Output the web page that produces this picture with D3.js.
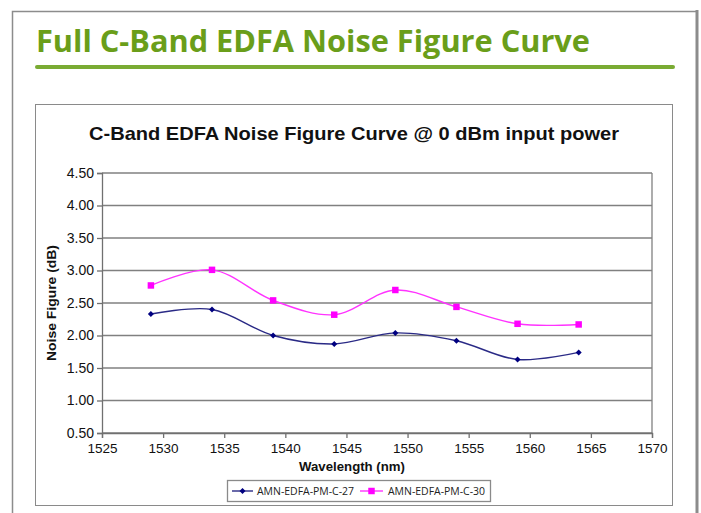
<!DOCTYPE html>
<html><head><meta charset="utf-8">
<script src="https://cdn.jsdelivr.net/npm/d3@7"></script>
<style>body{margin:0;background:#fff;}svg{display:block;}</style>
</head><body>
<script>
const wavelengths = [1529, 1534, 1539, 1544, 1549, 1554, 1559, 1564];
const series27 = [2.33, 2.40, 2.00, 1.87, 2.04, 1.92, 1.63, 1.74];
const series30 = [2.77, 3.01, 2.54, 2.32, 2.70, 2.44, 2.18, 2.17];
const seriesNames = ["AMN-EDFA-PM-C-27", "AMN-EDFA-PM-C-30"];
const xTicks = [1525, 1530, 1535, 1540, 1545, 1550, 1555, 1560, 1565, 1570];
const yTicks = [0.5, 1.0, 1.5, 2.0, 2.5, 3.0, 3.5, 4.0, 4.5];

const W = 701, H = 513;
const svg = d3.select("body").append("svg").attr("width", W).attr("height", H);
svg.append("rect").attr("width", W).attr("height", H).attr("fill", "#fff");

// outer page frame
svg.append("path").attr("d", "M12.5,520 V11.5 H696").attr("fill", "none").attr("stroke", "#8c8c8c").attr("stroke-width", 1.5);
svg.append("line").attr("x1", 697).attr("x2", 697).attr("y1", 10).attr("y2", 520).attr("stroke", "#8c8c8c").attr("stroke-width", 3);

// page title
svg.append("text").attr("x", 36).attr("y", 52)
  .attr("font-family", "'Open Sans', sans-serif").attr("font-weight", 700).attr("font-size", 31)
  .attr("fill", "#6a9e1a").attr("textLength", 554).attr("lengthAdjust", "spacingAndGlyphs")
  .text("Full C-Band EDFA Noise Figure Curve");
svg.append("line").attr("x1", 37).attr("x2", 673).attr("y1", 67).attr("y2", 67)
  .attr("stroke", "#7aab33").attr("stroke-width", 4).attr("stroke-linecap", "round");

// chart box
svg.append("rect").attr("x", 35.5).attr("y", 104.5).attr("width", 637).attr("height", 401)
  .attr("fill", "#fff").attr("stroke", "#8a8a8a").attr("stroke-width", 1);

svg.append("text").attr("x", 354).attr("y", 140).attr("text-anchor", "middle")
  .attr("font-family", "'Liberation Sans', Arial, sans-serif").attr("font-weight", 700).attr("font-size", 19)
  .attr("fill", "#111").attr("textLength", 530).attr("lengthAdjust", "spacingAndGlyphs")
  .text("C-Band EDFA Noise Figure Curve @ 0 dBm input power");

const x = d3.scaleLinear().domain([1525, 1570]).range([102, 652]);
const y = d3.scaleLinear().domain([0.5, 4.5]).range([433, 173]);

// gridlines
svg.append("g").selectAll("line").data(yTicks).join("line")
  .attr("x1", 102).attr("x2", 652).attr("y1", d => y(d)).attr("y2", d => y(d))
  .attr("stroke", "#808080").attr("stroke-width", 1.3);
svg.append("line").attr("x1", 652).attr("x2", 652).attr("y1", 173).attr("y2", 433)
  .attr("stroke", "#808080").attr("stroke-width", 1.3);

// axes
const yAxis = svg.append("g").attr("transform", "translate(102,0)")
  .call(d3.axisLeft(y).tickValues(yTicks).tickFormat(d3.format(".2f")).tickSizeOuter(0).tickSize(5).tickPadding(3));
const xAxis = svg.append("g").attr("transform", "translate(0,433)")
  .call(d3.axisBottom(x).tickValues(xTicks).tickFormat(d3.format("d")).tickSizeOuter(0).tickSize(5).tickPadding(5));
[yAxis, xAxis].forEach(a => {
  a.select(".domain").attr("stroke", "#707070").attr("stroke-width", 1.3);
  a.selectAll(".tick line").attr("stroke", "#707070").attr("stroke-width", 1.3);
  a.selectAll("text").attr("fill", "#111").attr("font-family", "'Liberation Sans', Arial, sans-serif");
});
yAxis.selectAll("text").attr("font-size", 14);
xAxis.selectAll("text").attr("font-size", 13.5);

// axis titles
svg.append("text").attr("x", 352).attr("y", 471).attr("text-anchor", "middle")
  .attr("font-family", "'Liberation Sans', Arial, sans-serif").attr("font-weight", 700).attr("font-size", 13)
  .attr("fill", "#111").attr("textLength", 106).attr("lengthAdjust", "spacingAndGlyphs")
  .text("Wavelength (nm)");
svg.append("text").attr("transform", "translate(56,303) rotate(-90)").attr("text-anchor", "middle")
  .attr("font-family", "'Liberation Sans', Arial, sans-serif").attr("font-weight", 700).attr("font-size", 13)
  .attr("fill", "#111").attr("textLength", 116).attr("lengthAdjust", "spacingAndGlyphs")
  .text("Noise Figure (dB)");

// series
const colors = ["#000080", "#ff00ff"];
const lineColors = ["#2a2a86", "#ff33ff"];
const data = [series27, series30];
const line = d3.line().x((d, i) => x(wavelengths[i])).y(d => y(d)).curve(d3.curveCatmullRom.alpha(0.5));
data.forEach((s, k) => {
  svg.append("path").datum(s).attr("d", line).attr("fill", "none")
    .attr("stroke", lineColors[k]).attr("stroke-width", 1.4);
});
const diamond = d3.symbol().type(d3.symbolSquare).size(18);
const square = d3.symbol().type(d3.symbolSquare).size(42);
svg.append("g").selectAll("path").data(series27).join("path")
  .attr("transform", (d, i) => `translate(${x(wavelengths[i])},${y(d)}) rotate(45)`)
  .attr("d", diamond).attr("fill", colors[0]);
svg.append("g").selectAll("path").data(series30).join("path")
  .attr("transform", (d, i) => `translate(${x(wavelengths[i])},${y(d)})`)
  .attr("d", square).attr("fill", colors[1]);

// legend
const lg = svg.append("g");
lg.append("rect").attr("x", 227.5).attr("y", 480.5).attr("width", 263).attr("height", 21)
  .attr("fill", "#fff").attr("stroke", "#8a8a8a").attr("stroke-width", 1.3);
const legendItems = [
  {name: seriesNames[0], x0: 232, x1: 253, tx: 257, sym: diamond, rot: 45, c: colors[0], lc: lineColors[0]},
  {name: seriesNames[1], x0: 360, x1: 383, tx: 388, sym: square, rot: 0, c: colors[1], lc: lineColors[1]}
];
legendItems.forEach(it => {
  lg.append("line").attr("x1", it.x0).attr("x2", it.x1).attr("y1", 491).attr("y2", 491)
    .attr("stroke", it.lc).attr("stroke-width", 1.4);
  lg.append("path").attr("transform", `translate(${(it.x0 + it.x1) / 2},491) rotate(${it.rot})`).attr("d", it.sym).attr("fill", it.c);
  lg.append("text").attr("x", it.tx).attr("y", 495)
    .attr("font-family", "'Open Sans', sans-serif").attr("font-size", 11).attr("fill", "#222")
    .attr("textLength", 97).attr("lengthAdjust", "spacingAndGlyphs").text(it.name);
});
</script>
</body></html>
